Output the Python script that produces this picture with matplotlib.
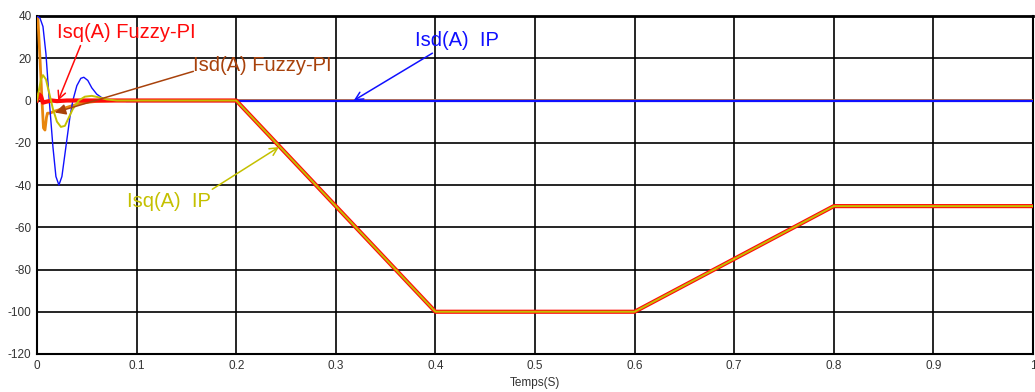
import numpy as np
import matplotlib.pyplot as plt

# Isd (IP controller) - startup oscillation then regulated at 0
t_isd_ip = [0, 0.003, 0.006, 0.009, 0.012, 0.016, 0.019, 0.022, 0.025, 0.029, 0.033,
            0.036, 0.040, 0.044, 0.047, 0.051, 0.055, 0.060, 0.066, 0.072, 0.080, 0.090, 1.0]
isd_ip = [40, 39, 35, 22, 2, -22, -36, -40, -36, -22, -8,
          0, 7, 10.5, 11, 9.5, 6, 3, 1, 0, -0.3, 0, 0]

# Isq (IP controller) - follows the torque profile
t_isq_ip = [0, 0.002, 0.004, 0.006, 0.009, 0.012, 0.016, 0.020, 0.024, 0.028, 0.032,
            0.036, 0.042, 0.048, 0.055, 0.062, 0.070, 0.080, 0.2, 0.4, 0.6, 0.8, 1.0]
isq_ip = [0, 5, 10, 12, 10, 4, -4, -10, -12.5, -12, -8,
          -4, 0, 1.8, 2.2, 1.5, 0.5, 0, 0, -100, -100, -50, -50]

# Isd (Fuzzy-PI)
t_isd_fz = [0, 0.001, 0.003, 0.005, 0.0065, 0.008, 0.0095, 0.0105, 0.013, 0.018,
            0.025, 0.035, 0.045, 0.060, 0.080, 1.0]
isd_fz = [40, 38, 20, 0, -13, -14, -8, -6, -6, -5,
          -4, -2.5, -1.2, -0.4, 0, 0]

# Isq (Fuzzy-PI)
t_isq_fz = [0, 0.002, 0.004, 0.006, 0.010, 0.015, 0.020, 0.030, 0.2, 0.4, 0.6, 0.8, 1.0]
isq_fz = [0, 3, 2, -1, -0.5, 0, -0.3, 0, 0, -100, -100, -50, -50]

xticks = np.round(np.arange(0, 1.01, 0.1), 1)
xtick_labels = ['0', '0.1', '0.2', '0.3', '0.4', '0.5', '0.6', '0.7', '0.8', '0.9', '1']
yticks = list(range(-120, 41, 20))

BLUE = '#1010ff'
RED = '#ff0a0a'
YELLOW = '#c4c000'
ORANGE = '#e8860e'
BROWN = '#a8420c'

plt.rcParams['font.family'] = ['Liberation Sans', 'DejaVu Sans']
plt.rcParams['axes.unicode_minus'] = False

fig = plt.figure(figsize=(10.35, 3.92), dpi=100)
ax = fig.add_axes([37 / 1035, 38 / 392, 996 / 1035, 338 / 392])

ax.plot(t_isd_fz, isd_fz, color=ORANGE, lw=2, zorder=3)
ax.plot(t_isd_ip, isd_ip, color=BLUE, lw=1.0, zorder=4)
# steady-state part of Isd IP drawn heavier
ax.plot(t_isd_ip[-2:], isd_ip[-2:], color=BLUE, lw=1.6, zorder=4)
ax.plot(t_isq_fz, isq_fz, color=RED, lw=3, zorder=5)
ax.plot(t_isq_ip, isq_ip, color=YELLOW, lw=1.4, zorder=6)

ax.set_xlim(0, 1)
ax.set_ylim(-120, 40)
ax.set_xticks(xticks)
ax.set_xticklabels(xtick_labels)
ax.set_yticks(yticks)
ax.grid(True, color='black', lw=1.2, zorder=1)
ax.set_axisbelow(True)
ax.tick_params(length=0, labelsize=8.5, labelcolor='#333333', pad=4)
for s in ax.spines.values():
    s.set_linewidth(1.5)
ax.spines['top'].set_linewidth(2)
ax.set_xlabel('Temps(S)', fontsize=8.5, color='#333333', labelpad=4)


def label(txt, xy, xytext, at, color, style='->', ms=14):
    ax.annotate('', xy=xy, xytext=xytext,
                arrowprops=dict(arrowstyle=style, color=color, lw=1.1, mutation_scale=ms,
                                shrinkA=0, shrinkB=0), zorder=8)
    ax.text(at[0], at[1], txt, color=color, fontsize=14.5, ha='left', va='center', zorder=8)


label('Isq(A) Fuzzy-PI', (0.0213, 0), (0.0437, 26), (0.0205, 32), RED)
label('Isd(A) Fuzzy-PI', (0.018, -5.7), (0.157, 13.8), (0.157, 16.5), BROWN, '-|>', 16)
label('Isd(A)  IP', (0.318, 0), (0.397, 22.4), (0.38, 28.6), BLUE)
label('Isq(A)  IP', (0.243, -22), (0.176, -42), (0.09, -47.6), YELLOW)

fig.savefig('out.png', dpi=100)
